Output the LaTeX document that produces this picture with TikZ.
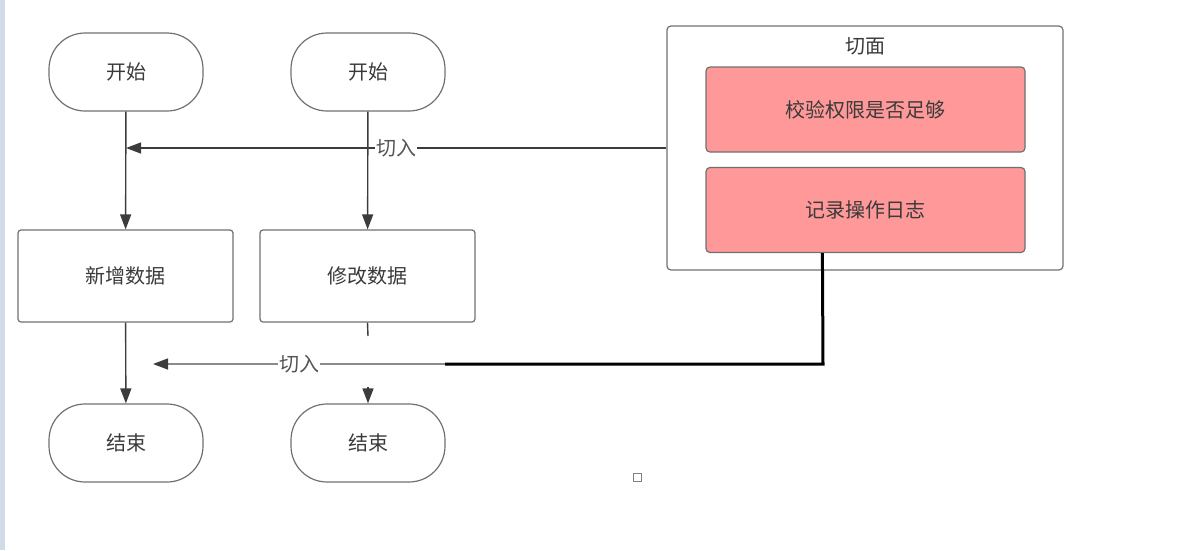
\documentclass[tikz,border=0pt]{standalone}
\usepackage{fontspec}
\setmainfont{Noto Sans CJK SC}
\usetikzlibrary{arrows.meta}
\definecolor{linec}{HTML}{3C3C3C}
\definecolor{boxc}{HTML}{707070}
\definecolor{txtc}{HTML}{3A3A3A}
\definecolor{pinkc}{HTML}{FF9999}
\definecolor{stripc}{HTML}{D3DAE8}
\definecolor{lblc}{HTML}{555555}
\definecolor{glinec}{HTML}{8A8A8A}
\tikzset{
  term/.style={draw=boxc, line width=1.2pt, rounded corners=36pt, minimum width=154pt, minimum height=78pt, inner sep=0pt, text=txtc},
  proc/.style={draw=boxc, line width=1.2pt, rounded corners=3pt, minimum width=215pt, minimum height=92pt, inner sep=0pt, text=txtc},
  advice/.style={draw=boxc, line width=1.2pt, fill=pinkc, rounded corners=4pt, minimum width=319pt, minimum height=85pt, inner sep=0pt, text=txtc},
  container/.style={draw=boxc, line width=1.2pt, rounded corners=4pt, minimum width=396pt, minimum height=244pt, inner sep=0pt},
  arr/.style={draw=linec, line width=1.4pt, -{Triangle[length=15pt,width=11pt]}},
  garr/.style={draw=glinec, line width=1.4pt, -{Triangle[length=15pt,width=11pt,color=linec]}},
  lbl/.style={fill=white, inner sep=1pt, text=lblc},
  thickline/.style={draw=black, line width=3pt},
}
\begin{document}
\begin{tikzpicture}[x=1pt,y=-1pt, font=\fontsize{20}{23}\selectfont]
\useasboundingbox (0,0) rectangle (1197,550);
\fill[stripc] (0,0) rectangle (5,550);
% left column
\node[term] (s1) at (126,72) {开始};
\node[proc] (add) at (125.5,276) {新增数据};
\node[term] (e1) at (126,443) {结束};
% right column
\node[term] (s2) at (368,72) {开始};
\node[proc] (mod) at (367.5,276) {修改数据};
\node[term] (e2) at (368,443) {结束};
% aspect
\node[container] (aspect) at (865,148) {};
\node[text=txtc, anchor=center] (title) at (865,46) {切面};
\node[advice] (check) at (865.5,109.5) {校验权限是否足够};
\node[advice] (log) at (865.5,210) {记录操作日志};
% flow
\draw[arr] (s1) -- (add);
\draw[arr] (s2) -- (mod);
\draw[arr] (add) -- (e1);
\coordinate (m1) at (368,336);
\draw[draw=linec, line width=1.4pt] (mod.south) -- (m1);
\coordinate (m3) at (368,387);
\draw[arr] (m3) -- (e2);
% advice arrows
\coordinate (j1) at (126,148);
\draw[arr] (aspect.west) -- (j1) node[lbl, pos=0.5] {切入};
\coordinate (m2) at (445,364);
\coordinate (j2) at (153,364);
\coordinate (c2) at (823,364);
\draw[garr] (m2) -- (j2) node[lbl, midway] {切入};
\draw[thickline] ([xshift=117pt]log.south west) -- (c2) -- (m2);
% small icon
\draw[gray, line width=1pt] (633.5,473.5) rectangle (641,481);
\fill[white] (635,476) rectangle (638,479.5);
\end{tikzpicture}
\end{document}
